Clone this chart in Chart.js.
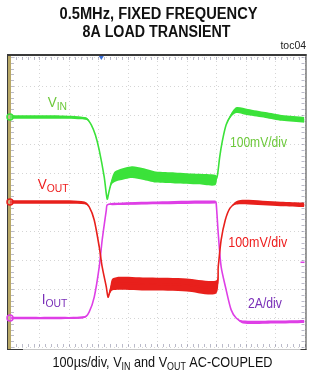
<!DOCTYPE html>
<html><head><meta charset="utf-8">
<script src="https://cdn.jsdelivr.net/npm/chart.js@4.4.1/dist/chart.umd.min.js"></script>
<style>html,body{margin:0;padding:0;background:#fff;overflow:hidden}#wrap{width:310px;height:374px;position:relative}</style>
</head><body><div id="wrap"><canvas id="c" width="310" height="374"></canvas></div>
<script>
// ---- data: time in µs (100 µs/div), amplitude in screen divisions ----
const titleLines = ['0.5MHz, FIXED FREQUENCY', '8A LOAD TRANSIENT'];
const figId = 'toc04';
const timeTicks = [0,100,200,300,400,500,600,700,800,900,1000];
const divTicks = [0,1,2,3,4,5,6,7,8,9,10];

// VIN (green)
const vinT = [0,150,240,262,276,290,303,320,330,336,345,354,370,414,450,495,560,640,697,704,712,721,734,751,768,808,867,923,1000];
const vinV = [7.93,7.93,7.9,7.86,7.66,7.31,6.79,5.86,5.1,5.35,5.7,5.86,5.93,6.03,5.97,5.86,5.83,5.79,5.76,5.9,6.55,7.1,7.66,8.0,8.17,8.1,8.0,7.9,7.83];
const vinRipple = [0.12,0.12,0.1,0.08,0,0,0,0,0,0,0.2,0.35,0.38,0.4,0.4,0.38,0.38,0.36,0.36,0,0,0,0,0.12,0.2,0.22,0.2,0.2,0.2];

// VOUT (red)
const voutT = [0,150,253,269,286,303,313,327,333,340,347,370,471,600,700,707,717,731,747,768,798,919,1000];
const voutV = [5.0,5.0,4.97,4.83,4.38,3.45,2.76,2.07,1.72,1.95,2.15,2.2,2.17,2.14,2.07,2.76,3.69,4.38,4.79,4.97,5.0,4.93,4.9];
const voutRipple = [0.12,0.12,0.1,0,0,0,0,0,0,0.2,0.4,0.45,0.45,0.45,0.45,0,0,0,0,0.12,0.15,0.15,0.15];

// IOUT (magenta)
const ioutT = [0,150,253,269,286,303,313,327,330,350,500,697,700,707,717,734,751,768,791,900,1000];
const ioutV = [1.0,1.0,1.03,1.21,1.72,2.76,3.69,4.72,4.9,4.93,4.97,5.0,4.97,3.93,2.76,1.97,1.28,1.0,0.86,0.86,0.88];
const ioutRipple = [0.08,0.08,0.06,0,0,0,0,0,0,0.08,0.1,0.1,0,0,0,0,0,0,0.1,0.1,0.1];

const triggerTime = 310;
const triggerLevel = 2.93;

// ---- styles ----
const FF = '"Liberation Sans", Arial, sans-serif';
const GREEN = '#3be23a', RED = '#e8201c', MAG = '#de3fe6';
const GREEN_T = '#6cc83a', RED_T = '#ee1d1d', PURP_T = '#7a2fb8';

function pts(T, V, R, k) { return T.map((t, i) => ({x: t, y: V[i] + (R ? k * R[i] / 2 : 0)})); }
function trace(label, T, V, R, color) {
  return [
    {label, data: pts(T, V), borderColor: color, borderWidth: 1.6, backgroundColor: color,
     pointRadius: c => c.dataIndex === 0 ? 3 : 0, pointBackgroundColor: 'rgba(255,255,255,0.2)', pointBorderColor: color,
     pointBorderWidth: 1.5, tension: 0.25, fill: false, clip: {left: 6, top: 0, right: 0, bottom: 0}},
    {label: label + ' hi', data: pts(T, V, R, 1), borderWidth: 0, pointRadius: 0, tension: 0.25, fill: false, borderColor: 'rgba(0,0,0,0)'},
    {label: label + ' lo', data: pts(T, V, R, -1), borderWidth: 0, pointRadius: 0, tension: 0.25, fill: '-1', backgroundColor: color, borderColor: 'rgba(0,0,0,0)'}
  ];
}

function rich(ctx, parts, x, y, o) {
  let w = 0;
  const ms = parts.map(p => { ctx.font = p.f; const m = ctx.measureText(p.t).width; w += m; return m; });
  const sx = o.fitW ? o.fitW / w : (o.sx || 1);
  const start = o.align === 'center' ? -w / 2 : o.align === 'right' ? -w : 0;
  ctx.save(); ctx.translate(x, y); ctx.scale(sx, 1);
  ctx.textAlign = 'left'; ctx.textBaseline = 'alphabetic';
  let cx = start;
  parts.forEach((p, i) => { ctx.font = p.f; ctx.fillStyle = p.c || o.c; ctx.fillText(p.t, cx, p.dy || 0); cx += ms[i]; });
  ctx.restore();
}

const scopePlugin = {
  id: 'scope',
  beforeDatasetsDraw(chart) {
    const {ctx, chartArea: a, scales: {x, y}} = chart;
    ctx.save();
    // dotted graticule
    ctx.strokeStyle = 'rgba(150,150,150,0.4)'; ctx.lineWidth = 1; ctx.setLineDash([1, 3]);
    timeTicks.forEach(t => { const p = Math.round(x.getPixelForValue(t)) + 0.5; ctx.beginPath(); ctx.moveTo(p, a.top); ctx.lineTo(p, a.bottom); ctx.stroke(); });
    divTicks.forEach(d => { const p = Math.round(y.getPixelForValue(d)) + 0.5; ctx.beginPath(); ctx.moveTo(a.left, p); ctx.lineTo(a.right, p); ctx.stroke(); });
    ctx.setLineDash([]);
    // minor ticks on edges
    ctx.strokeStyle = 'rgba(120,120,150,0.5)';
    for (let t = 0; t <= 1000; t += 20) {
      const p = Math.round(x.getPixelForValue(t)) + 0.5;
      ctx.beginPath(); ctx.moveTo(p, a.top); ctx.lineTo(p, a.top + 3); ctx.moveTo(p, a.bottom); ctx.lineTo(p, a.bottom - 3); ctx.stroke();
    }
    for (let d = 0; d <= 10.001; d += 0.2) {
      const p = Math.round(y.getPixelForValue(d)) + 0.5;
      ctx.beginPath(); ctx.moveTo(a.left + 1, p); ctx.lineTo(a.left + 4, p); ctx.moveTo(a.right, p); ctx.lineTo(a.right - 3, p); ctx.stroke();
    }
    // frame
    ctx.fillStyle = '#3a3a3a';
    ctx.fillRect(a.left - 3, a.top - 3, a.right - a.left + 5, 2);
    ctx.fillRect(a.left - 3, a.top - 3, 1, a.bottom - a.top + 6);
    ctx.fillRect(a.right + 1, a.top - 3, 1, a.bottom - a.top + 6);
    ctx.fillStyle = '#b8a867';
    ctx.fillRect(a.left - 2, a.top - 1, 3, a.bottom - a.top + 4);
    ctx.fillStyle = '#c8c8c8';
    ctx.fillRect(a.left - 3, a.bottom + 2, a.right - a.left + 5, 1);
    ctx.fillStyle = '#3a3a3a';
    ctx.fillRect(a.left - 3, a.bottom + 2, 16, 1);
    ctx.fillRect(a.right - 4, a.bottom + 2, 6, 1);
    // trigger markers
    const tp = x.getPixelForValue(triggerTime);
    ctx.fillStyle = '#3a6fd8';
    ctx.beginPath(); ctx.moveTo(tp - 2.5, a.top - 1); ctx.lineTo(tp + 2.5, a.top - 1); ctx.lineTo(tp, a.top + 3); ctx.closePath(); ctx.fill();
    const lp = y.getPixelForValue(triggerLevel);
    ctx.fillStyle = MAG;
    ctx.fillRect(a.right - 4, lp - 0.5, 4, 1.5);
    ctx.restore();
  },
  afterDatasetsDraw(chart) {
    const {ctx, scales: {x, y}} = chart;
    const big = '15px ' + FF, sub = '11.5px ' + FF;
    rich(ctx, [{t: 'V', f: big}, {t: 'IN', f: sub, dy: 3}], x.getPixelForValue(128), y.getPixelForValue(8.28), {c: GREEN_T, sx: 0.9});
    rich(ctx, [{t: 'V', f: big}, {t: 'OUT', f: sub, dy: 3}], x.getPixelForValue(94), y.getPixelForValue(5.45), {c: RED_T, sx: 0.9});
    rich(ctx, [{t: 'I', f: big}, {t: 'OUT', f: sub, dy: 3}], x.getPixelForValue(108), y.getPixelForValue(1.48), {c: PURP_T, sx: 0.9});
    const lab = '14.5px ' + FF;
    rich(ctx, [{t: '100mV/div', f: lab}], x.getPixelForValue(747), y.getPixelForValue(6.9), {c: GREEN_T, fitW: 57});
    rich(ctx, [{t: '100mV/div', f: lab}], x.getPixelForValue(741), y.getPixelForValue(3.45), {c: RED_T, fitW: 59});
    rich(ctx, [{t: '2A/div', f: lab}], x.getPixelForValue(808), y.getPixelForValue(1.34), {c: PURP_T, fitW: 34});
  },
  afterDraw(chart) {
    const {ctx} = chart;
    rich(ctx, [{t: titleLines[0], f: 'bold 16px ' + FF}], 158.5, 18.5, {c: '#111', align: 'center', fitW: 198});
    rich(ctx, [{t: titleLines[1], f: 'bold 16px ' + FF}], 156.5, 36.5, {c: '#111', align: 'center', fitW: 148});
    rich(ctx, [{t: figId, f: '11px ' + FF}], 306, 49, {c: '#222', align: 'right', sx: 0.95});
    const cb = '15px ' + FF, cs = '10.5px ' + FF;
    rich(ctx, [{t: '100\u00b5s/div, V', f: cb}, {t: 'IN', f: cs, dy: 3}, {t: ' and V', f: cb}, {t: 'OUT', f: cs, dy: 3}, {t: ' AC-COUPLED', f: cb}],
      162.5, 367, {c: '#111', align: 'center', fitW: 220});
  }
};

new Chart(document.getElementById('c'), {
  type: 'line',
  data: {datasets: [
    ...trace('VIN', vinT, vinV, vinRipple, GREEN),
    ...trace('VOUT', voutT, voutV, voutRipple, RED),
    ...trace('IOUT', ioutT, ioutV, ioutRipple, MAG)
  ]},
  options: {
    responsive: false, animation: false, devicePixelRatio: 1,
    layout: {padding: {left: 10, right: 3, top: 57, bottom: 27}},
    scales: {
      x: {type: 'linear', min: 0, max: 1000, display: false},
      y: {type: 'linear', min: 0, max: 10, display: false}
    },
    plugins: {legend: {display: false}, title: {display: false}, tooltip: {enabled: false}}
  },
  plugins: [scopePlugin]
});
</script>
</body></html>
